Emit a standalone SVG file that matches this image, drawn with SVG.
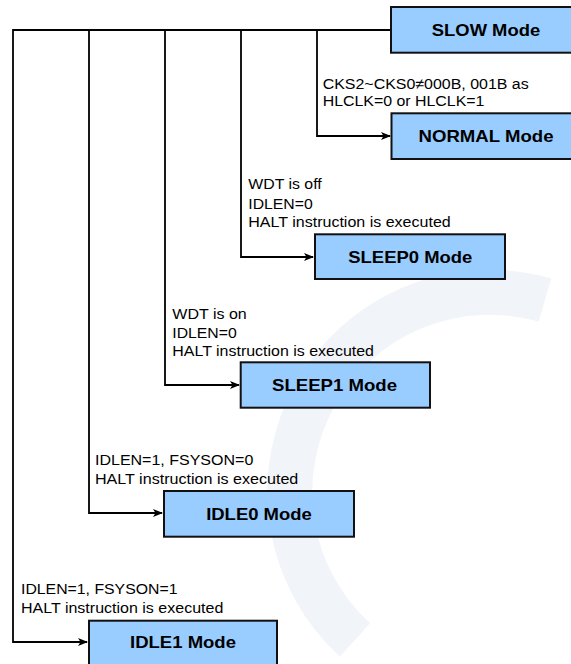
<svg xmlns="http://www.w3.org/2000/svg" width="571" height="664" viewBox="0 0 571 664">
<style>
.box{fill:#99CCFF;stroke:#111;stroke-width:2}
.lbl{font-family:"Liberation Sans",Arial,sans-serif;font-weight:bold;font-size:16.5px;fill:#000;text-anchor:middle}
.txt{font-family:"Liberation Sans",Arial,sans-serif;font-size:15.2px;fill:#000}
.ln{fill:none;stroke:#000;stroke-width:1.8}
</style>
<defs>
<marker id="arr" markerWidth="10" markerHeight="8" refX="9" refY="4" orient="auto" markerUnits="userSpaceOnUse">
<path d="M0,0 L10,4 L0,8 L2.5,4 Z" fill="#000"/>
</marker>
</defs>
<rect width="571" height="664" fill="#fff"/>
<g id="watermark">
<path d="M545,300 A200,200 0 0 0 355,640" fill="none" stroke="#f1f4f9" stroke-width="45"/>
</g>
<g id="connectors">
<path class="ln" d="M391,30 H13 V642 H87" marker-end="url(#arr)"/>
<path class="ln" d="M89,30 V513 H162" marker-end="url(#arr)"/>
<path class="ln" d="M165,30 V385 H239" marker-end="url(#arr)"/>
<path class="ln" d="M241,30 V257 H313" marker-end="url(#arr)"/>
<path class="ln" d="M317,30 V136 H390" marker-end="url(#arr)"/>
</g>
<g id="labels">
<text class="txt" x="322.7" y="88.5" textLength="206" lengthAdjust="spacingAndGlyphs">CKS2~CKS0≠000B, 001B as</text>
<text class="txt" x="322.7" y="106.3" textLength="161.7" lengthAdjust="spacingAndGlyphs">HLCLK=0 or HLCLK=1</text>
<text class="txt" x="248.3" y="189.3" textLength="73.4" lengthAdjust="spacingAndGlyphs">WDT is off</text>
<text class="txt" x="248.3" y="208.5" textLength="64.4" lengthAdjust="spacingAndGlyphs">IDLEN=0</text>
<text class="txt" x="248.3" y="227.3" textLength="202.4" lengthAdjust="spacingAndGlyphs">HALT instruction is executed</text>
<text class="txt" x="172.3" y="319" textLength="74.4" lengthAdjust="spacingAndGlyphs">WDT is on</text>
<text class="txt" x="172.3" y="337.7" textLength="64.4" lengthAdjust="spacingAndGlyphs">IDLEN=0</text>
<text class="txt" x="172.3" y="355.7" textLength="201.7" lengthAdjust="spacingAndGlyphs">HALT instruction is executed</text>
<text class="txt" x="95" y="465" textLength="158.3" lengthAdjust="spacingAndGlyphs">IDLEN=1, FSYSON=0</text>
<text class="txt" x="95" y="484.3" textLength="203.3" lengthAdjust="spacingAndGlyphs">HALT instruction is executed</text>
<text class="txt" x="21" y="594.3" textLength="156.5" lengthAdjust="spacingAndGlyphs">IDLEN=1, FSYSON=1</text>
<text class="txt" x="21" y="613.3" textLength="202.3" lengthAdjust="spacingAndGlyphs">HALT instruction is executed</text>
</g>
<g id="slow">
<rect class="box" x="391" y="7" width="190" height="45.7"/>
<text class="lbl" x="486" y="36" textLength="108.3" lengthAdjust="spacingAndGlyphs">SLOW Mode</text>
</g>
<g id="normal">
<rect class="box" x="391.5" y="113.3" width="190" height="45.7"/>
<text class="lbl" x="486" y="142" textLength="135" lengthAdjust="spacingAndGlyphs">NORMAL Mode</text>
</g>
<g id="sleep0">
<rect class="box" x="315" y="234.3" width="190" height="44.7"/>
<text class="lbl" x="410.3" y="262.5" textLength="124" lengthAdjust="spacingAndGlyphs">SLEEP0 Mode</text>
</g>
<g id="sleep1">
<rect class="box" x="240.7" y="362.3" width="189.3" height="45.4"/>
<text class="lbl" x="334.5" y="391" textLength="125" lengthAdjust="spacingAndGlyphs">SLEEP1 Mode</text>
</g>
<g id="idle0">
<rect class="box" x="164" y="491" width="190" height="45.7"/>
<text class="lbl" x="259" y="520" textLength="105.7" lengthAdjust="spacingAndGlyphs">IDLE0 Mode</text>
</g>
<g id="idle1">
<rect class="box" x="89" y="620.7" width="188" height="45.7"/>
<text class="lbl" x="183" y="647.5" textLength="106" lengthAdjust="spacingAndGlyphs">IDLE1 Mode</text>
</g>
</svg>
